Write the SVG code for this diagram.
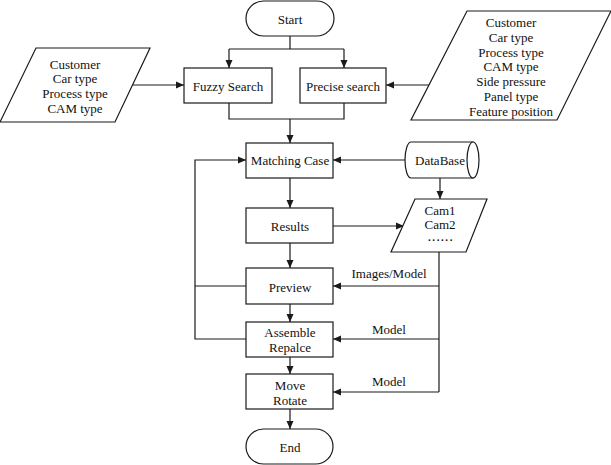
<svg xmlns="http://www.w3.org/2000/svg" width="611" height="465" viewBox="0 0 611 465">
<style>
.s{fill:#fff;stroke:#1a1a1a;stroke-width:1.2}
.c{fill:none;stroke:#1a1a1a;stroke-width:1.2}
text{font-family:"Liberation Serif","Times New Roman",serif;font-size:13px;fill:#111;text-anchor:middle;dominant-baseline:central}
</style>
<defs>
<marker id="a" markerUnits="userSpaceOnUse" markerWidth="9" markerHeight="8" refX="8" refY="4" orient="auto">
<path d="M0,0.5 L8,4 L0,7.5 Z" fill="#1a1a1a"/>
</marker>
</defs>
<rect width="611" height="465" fill="#fff"/>
<g id="connectors">
<path class="c" d="M290,36 V49 M229,49 H344"/>
<path class="c" d="M229,49 V68" marker-end="url(#a)"/>
<path class="c" d="M344,49 V68" marker-end="url(#a)"/>
<path class="c" d="M133,85 H184" marker-end="url(#a)"/>
<path class="c" d="M431,85 H386" marker-end="url(#a)"/>
<path class="c" d="M229,103 V119 H344 V103"/>
<path class="c" d="M290,119 V143" marker-end="url(#a)"/>
<path class="c" d="M405,160 H333" marker-end="url(#a)"/>
<path class="c" d="M440,178 V199" marker-end="url(#a)"/>
<path class="c" d="M290,178 V208" marker-end="url(#a)"/>
<path class="c" d="M333,226 H404" marker-end="url(#a)"/>
<path class="c" d="M290,243 V268" marker-end="url(#a)"/>
<path class="c" d="M290,304 V322" marker-end="url(#a)"/>
<path class="c" d="M290,357 V374" marker-end="url(#a)"/>
<path class="c" d="M290,409 V429" marker-end="url(#a)"/>
<path class="c" d="M439,252 V392"/>
<path class="c" d="M439,286 H333" marker-end="url(#a)"/>
<path class="c" d="M439,339 H333" marker-end="url(#a)"/>
<path class="c" d="M439,392 H333" marker-end="url(#a)"/>
<path class="c" d="M246,286 H195"/>
<path class="c" d="M246,339 H195 V160 H246" marker-end="url(#a)"/>
<text x="389" y="273">Images/Model</text>
<text x="389" y="329">Model</text>
<text x="389" y="381">Model</text>
</g>
<g id="start">
<rect class="s" x="246" y="1" width="88" height="35" rx="17.5"/>
<text x="290" y="19">Start</text>
</g>
<g id="input-left">
<polygon class="s" points="36,48 150,48 115,122 0,122"/>
<text x="75" y="64">Customer</text>
<text x="75" y="78">Car type</text>
<text x="75" y="93">Process type</text>
<text x="75" y="108">CAM type</text>
</g>
<g id="input-right">
<polygon class="s" points="467,11 611,11 557,120 411,120"/>
<text x="511" y="22">Customer</text>
<text x="511" y="37">Car type</text>
<text x="511" y="52">Process type</text>
<text x="511" y="66">CAM type</text>
<text x="511" y="81">Side pressure</text>
<text x="511" y="96">Panel type</text>
<text x="511" y="111">Feature position</text>
</g>
<g id="fuzzy">
<rect class="s" x="184" y="68" width="88" height="35"/>
<text x="228" y="86">Fuzzy Search</text>
</g>
<g id="precise">
<rect class="s" x="300" y="68" width="86" height="35"/>
<text x="343" y="86">Precise search</text>
</g>
<g id="matching">
<rect class="s" x="246" y="143" width="87" height="35"/>
<text x="290" y="160">Matching Case</text>
</g>
<g id="database">
<path class="s" d="M411,142 H473 V178 H411 A6,18 0 0 1 411,142 Z"/>
<ellipse class="s" cx="473" cy="160" rx="6" ry="18"/>
<text x="440" y="160">DataBase</text>
</g>
<g id="results">
<rect class="s" x="246" y="208" width="87" height="35"/>
<text x="290" y="226">Results</text>
</g>
<g id="cams">
<polygon class="s" points="415,199 487,199 466,252 391,252"/>
<text x="440" y="210">Cam1</text>
<text x="440" y="224">Cam2</text>
<text x="441" y="237" style="font-size:11px;font-weight:bold;letter-spacing:1.6px">......</text>
</g>
<g id="preview">
<rect class="s" x="246" y="268" width="87" height="36"/>
<text x="290" y="287">Preview</text>
</g>
<g id="assemble">
<rect class="s" x="246" y="322" width="87" height="35"/>
<text x="290" y="332">Assemble</text>
<text x="290" y="347">Repalce</text>
</g>
<g id="move">
<rect class="s" x="246" y="374" width="87" height="35"/>
<text x="290" y="385">Move</text>
<text x="290" y="400">Rotate</text>
</g>
<g id="end">
<rect class="s" x="246" y="429" width="87" height="35" rx="17.5"/>
<text x="290" y="447">End</text>
</g>
</svg>
